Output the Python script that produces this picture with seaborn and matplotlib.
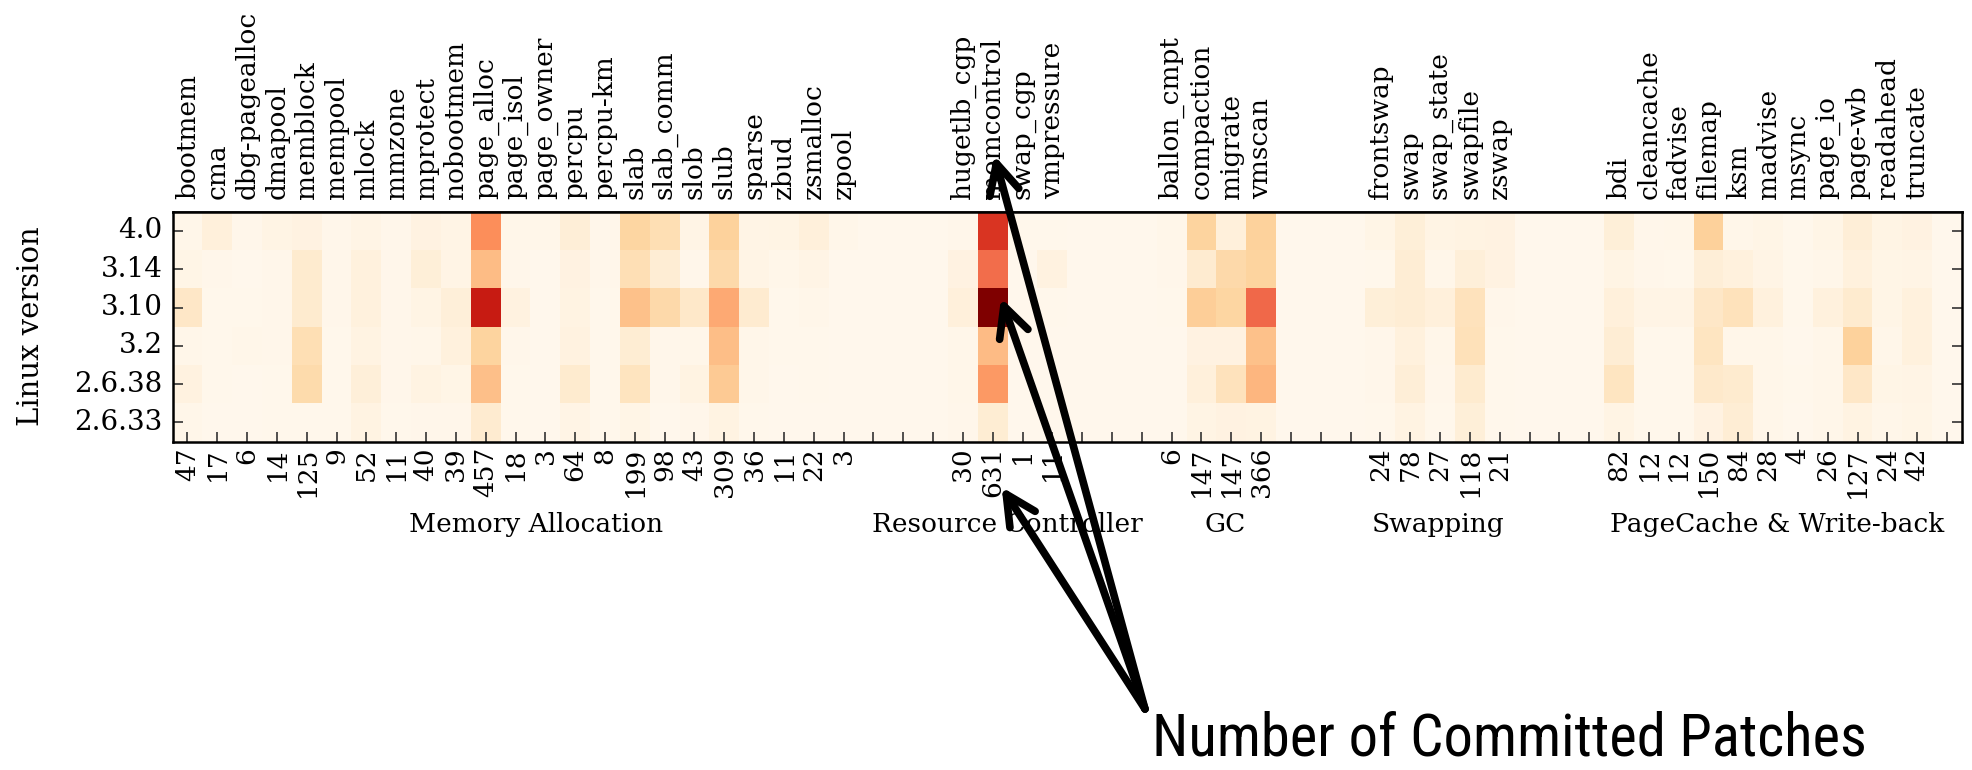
import numpy as np
import pandas as pd
import matplotlib
matplotlib.use("Agg")
import matplotlib.pyplot as plt
import matplotlib.transforms as mtransforms
import seaborn as sns

versions = ["4.0", "3.14", "3.10", "3.2", "2.6.38", "2.6.33"]

# committed patches per file, one value per version (top row first)
memory_allocation = {
    "bootmem": [3, 4, 25, 3, 9, 3],
    "cma": [12, 2, 1, 1, 1, 0],
    "dbg-pagealloc": [2, 0, 1, 3, 0, 0],
    "dmapool": [6, 2, 2, 2, 1, 1],
    "memblock": [8, 20, 20, 36, 40, 1],
    "mempool": [2, 2, 2, 1, 1, 1],
    "mlock": [5, 10, 10, 7, 13, 7],
    "mmzone": [2, 2, 2, 2, 2, 1],
    "mprotect": [8, 14, 6, 3, 7, 2],
    "nobootmem": [5, 5, 13, 10, 4, 2],
    "page_alloc": [96, 71, 155, 48, 68, 19],
    "page_isol": [3, 2, 9, 2, 1, 1],
    "page_owner": [3, 0, 0, 0, 0, 0],
    "percpu": [15, 8, 7, 9, 20, 5],
    "percpu-km": [2, 2, 1, 1, 1, 1],
    "slab": [46, 35, 67, 17, 30, 4],
    "slab_comm": [36, 16, 42, 2, 2, 0],
    "slob": [5, 2, 24, 3, 7, 2],
    "slub": [50, 42, 82, 70, 58, 7],
    "sparse": [5, 5, 19, 3, 3, 1],
    "zbud": [6, 3, 1, 1, 0, 0],
    "zsmalloc": [12, 5, 3, 1, 1, 0],
    "zpool": [3, 0, 0, 0, 0, 0],
}
resource_controller = {
    "hugetlb_cgp": [2, 8, 12, 3, 3, 2],
    "memcontrol": [143, 116, 193, 72, 90, 17],
    "swap_cgp": [1, 0, 0, 0, 0, 0],
    "vmpressure": [1, 9, 1, 0, 0, 0],
}
gc = {
    "ballon_cmpt": [3, 2, 1, 0, 0, 0],
    "compaction": [48, 19, 54, 8, 12, 6],
    "migrate": [12, 42, 46, 8, 31, 8],
    "vmscan": [50, 48, 119, 67, 75, 7],
}
swapping = {
    "frontswap": [4, 1, 14, 2, 2, 1],
    "swap": [14, 16, 16, 10, 15, 7],
    "swap_state": [6, 3, 12, 3, 2, 1],
    "swapfile": [7, 13, 31, 33, 20, 14],
    "zswap": [8, 8, 2, 1, 1, 1],
}
pagecache = {
    "bdi": [14, 6, 12, 16, 28, 6],
    "cleancache": [2, 2, 5, 1, 1, 1],
    "fadvise": [3, 1, 5, 1, 1, 1],
    "filemap": [52, 15, 25, 28, 22, 8],
    "ksm": [3, 10, 32, 3, 20, 16],
    "madvise": [4, 5, 10, 3, 3, 3],
    "msync": [1, 1, 1, 0, 1, 0],
    "page_io": [4, 3, 10, 3, 3, 3],
    "page-wb": [15, 10, 20, 50, 25, 7],
    "readahead": [6, 4, 4, 3, 4, 3],
    "truncate": [8, 5, 10, 10, 5, 4],
}

groups = [
    ("Memory Allocation", memory_allocation),
    ("Resource Controller", resource_controller),
    ("GC", gc),
    ("Swapping", swapping),
    ("PageCache & Write-back", pagecache),
]
# where the group captions sit (column units)
group_label_x = [12.2, 28.0, 35.3, 42.45, 53.8]
gap = 3

# build the matrix with empty spacer columns between groups
columns, names = [], []
for i, (gname, d) in enumerate(groups):
    if i > 0:
        for _ in range(gap):
            columns.append([0] * len(versions))
            names.append("")
    for name, vals in d.items():
        columns.append(vals)
        names.append(name)
columns.append([0] * len(versions))
names.append("")

matrix = np.array(columns).T
df = pd.DataFrame(matrix, index=versions)
totals = [str(s) if n else "" for n, s in zip(names, matrix.sum(axis=0))]

plt.rcParams["font.family"] = ["DejaVu Serif"]

fig = plt.figure(figsize=(19.72, 7.70), dpi=100)
ax = fig.add_axes([0.0875, 0.4266, 0.9074, 0.2983])

sns.heatmap(df, cmap="OrRd", vmin=0, vmax=matrix.max(), cbar=False, ax=ax,
            xticklabels=False, yticklabels=versions)

xpos = np.arange(len(names)) + 0.5
ax.set_xticks(xpos)
ax.set_xticklabels(totals, rotation=90, fontsize=19)
ax.set_yticklabels(versions, rotation=0, fontsize=20)
ax.tick_params(axis="both", direction="in", length=7, width=1.2,
               left=True, right=True, bottom=True, top=False, color="#333333")
ax.tick_params(axis="y", pad=7)
ax.tick_params(axis="x", pad=4)

top = ax.secondary_xaxis("top")
top.set_xticks(xpos, labels=names, rotation=90, fontsize=19)
top.tick_params(direction="in", length=7, width=1.2, pad=9, color="#333333")
top.spines["top"].set_linewidth(1.8)

for s in ax.spines.values():
    s.set_visible(True)
    s.set_linewidth(1.8)
    s.set_color("black")

ax.set_xlabel("")
ax.set_ylabel("Linux version", fontsize=21)
ax.yaxis.set_label_coords(-0.0713, 0.5)

# group captions under the totals
trans = mtransforms.blended_transform_factory(ax.transData, fig.transFigure)
for (gname, _), gx in zip(groups, group_label_x):
    ax.text(gx, 0.3095, gname, transform=trans, ha="center", va="baseline",
            fontsize=19)

# annotation arrows pointing at the memcontrol column
mem_col = names.index("memcontrol") + 0.5
targets = [(mem_col + 0.05, -1.48), (mem_col + 0.28, 2.25), (mem_col + 0.3, 7.19)]
for tx, ty in targets:
    ax.annotate("", xy=(tx, ty), xycoords="data",
                xytext=(1145, 770 - 709), textcoords="figure pixels",
                arrowprops=dict(arrowstyle="->,head_length=0.9,head_width=0.45",
                                lw=5.5, color="black", mutation_scale=24,
                                shrinkA=0, shrinkB=0, capstyle="round",
                                joinstyle="round"),
                annotation_clip=False, zorder=10)

# condensed sans caption; shrink to the reference width if no narrow face exists
note = fig.text(1152 / 1972, 14 / 770, "Number of Committed Patches", fontsize=46,
                family=["Roboto Condensed", "Liberation Sans Narrow", "DejaVu Sans"],
                fontstretch="condensed", ha="left", va="baseline")
fig.canvas.draw()
w = note.get_window_extent().width
if w > 714:
    note.set_fontsize(46 * 714 / w)

fig.savefig("out.png", dpi=100, facecolor="white")
